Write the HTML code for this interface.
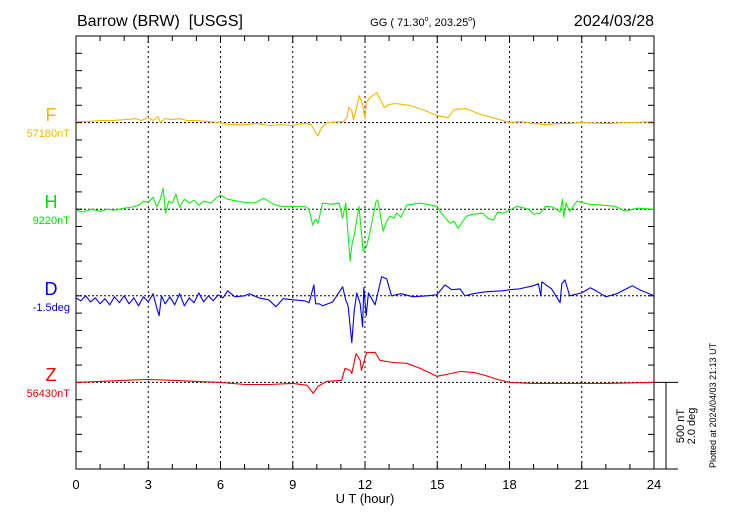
<!DOCTYPE html>
<html><head><meta charset="utf-8"><style>
body{margin:0;background:#fff;}
svg{display:block;font-family:"Liberation Sans",sans-serif;}
</style></head><body>
<svg id="chart" width="730" height="520" viewBox="0 0 730 520" xmlns="http://www.w3.org/2000/svg">
<rect x="0" y="0" width="730" height="520" fill="#fff"/>
<text x="77" y="26" font-size="16">Barrow (BRW)&#160;&#160;[USGS]</text>
<text x="423" y="26" font-size="11" text-anchor="middle">GG ( 71.30<tspan font-size="7" dy="-5">o</tspan><tspan dy="5">, 203.25</tspan><tspan font-size="7" dy="-5">o</tspan><tspan dy="5">)</tspan></text>
<text x="654" y="26" font-size="16" text-anchor="end">2024/03/28</text>
<g id="grid"></g>
<g id="axes"></g>
<g id="series"></g>
<text x="51" y="121" font-size="18" fill="#f7b500" text-anchor="middle">F</text>
<text x="70" y="137" font-size="11" fill="#f7b500" text-anchor="end">57180nT</text>
<text x="51" y="208" font-size="18" fill="#00dd00" text-anchor="middle">H</text>
<text x="70" y="224" font-size="11" fill="#00dd00" text-anchor="end">9220nT</text>
<text x="51" y="295" font-size="18" fill="#0000ee" text-anchor="middle">D</text>
<text x="70" y="311" font-size="11" fill="#0000ee" text-anchor="end">-1.5deg</text>
<text x="51" y="381" font-size="18" fill="#ee0000" text-anchor="middle">Z</text>
<text x="70" y="397" font-size="11" fill="#ee0000" text-anchor="end">56430nT</text>
<text x="365" y="503" font-size="13" text-anchor="middle">U T (hour)</text>
<text transform="translate(684,426) rotate(-90)" font-size="11" text-anchor="middle">500 nT</text>
<text transform="translate(695,426) rotate(-90)" font-size="11" text-anchor="middle">2.0 deg</text>
<text transform="translate(716,468) rotate(-90)" font-size="9">Plotted at 2024/04/03 21:13 UT</text>
</svg>
<script>
const xTicks = [0,3,6,9,12,15,18,21,24];
const fSeries = [[0,6],[0.5,6],[1,12],[1.5,12],[2,17],[2.5,23],[2.7,12],[3,29],[3.2,12],[3.4,35],[3.5,0],[3.7,23],[4,17],[4.3,23],[4.6,12],[5,12],[5.5,6],[6,0],[6.3,-12],[7,-12],[7.5,-6],[8,-17],[8.5,-12],[9,-17],[9.5,-6],[9.77,-12],[9.95,-58],[10.05,-75],[10.2,-29],[10.45,0],[11.1,6],[11.25,29],[11.33,87],[11.45,69],[11.52,17],[11.6,58],[11.76,156],[11.88,115],[12.0,23],[12.05,115],[12.2,144],[12.5,173],[12.65,127],[12.8,87],[13.0,104],[13.25,110],[13.9,98],[14.5,69],[15.0,40],[15.45,29],[15.7,75],[16.2,81],[16.7,52],[17.6,17],[18,0],[18.5,6],[19,-6],[19.5,-12],[20,-6],[20.5,-6],[21,0],[22,-6],[23,0],[24,6]];
const hSeries = [[0,-6],[0.3,-17],[0.6,0],[1,-12],[1.3,0],[1.6,-6],[2,6],[2.3,12],[2.6,23],[2.8,46],[3,40],[3.2,69],[3.35,12],[3.5,58],[3.62,121],[3.72,-23],[3.85,46],[4,35],[4.15,87],[4.3,12],[4.5,58],[4.7,35],[4.9,52],[5.1,23],[5.3,46],[5.6,35],[5.85,69],[6,81],[6.3,58],[6.7,46],[7,40],[7.4,35],[7.8,63],[8.2,29],[8.5,17],[9,17],[9.5,17],[9.68,0],[9.83,-92],[9.95,-58],[10.05,-81],[10.24,35],[10.6,29],[10.92,35],[11.07,-52],[11.2,35],[11.38,-300],[11.46,-202],[11.55,-150],[11.75,17],[11.92,-242],[12.05,-219],[12.17,-156],[12.46,46],[12.53,52],[12.75,-127],[12.9,-69],[13.04,-40],[13.2,-52],[13.32,-23],[13.5,-46],[13.73,23],[14.29,35],[14.98,17],[15.2,-29],[15.53,-81],[15.7,-69],[15.86,-110],[16.22,-40],[16.5,-29],[16.9,-23],[17.1,-52],[17.33,-63],[17.5,-17],[17.75,-23],[18.0,-6],[18.3,17],[18.8,0],[19.0,-29],[19.27,-23],[19.5,17],[19.82,12],[20.1,-17],[20.2,58],[20.25,-46],[20.35,35],[20.5,-12],[20.8,46],[21.3,29],[21.9,23],[22.4,17],[22.8,-12],[23.3,6],[24,0]];
const dHours = [0,0.2,0.4,0.6,0.8,1.0,1.2,1.4,1.6,1.8,2.0,2.2,2.4,2.6,2.8,3.0,3.2,3.35,3.45,3.55,3.7,3.9,4.1,4.3,4.5,4.7,4.9,5.1,5.3,5.5,5.7,5.9,6.1,6.3,6.6,7.0,7.2,7.6,8.0,8.3,8.6,9,9.5,9.68,9.88,9.95,10.1,10.24,10.66,11.07,11.2,11.3,11.45,11.55,11.66,11.8,11.9,11.95,12.05,12.14,12.42,12.69,12.9,13.1,13.5,14,14.56,14.98,15.32,15.6,15.95,16.15,16.5,17,17.7,18,18.4,18.98,19.2,19.3,19.34,19.75,20.1,20.17,20.3,20.5,21,21.35,21.6,22,22.45,23.1,23.4,24];
const dDegrees = [-0.048,-0.116,0,-0.14,-0.048,-0.184,-0.068,-0.208,-0.024,-0.16,0,-0.184,-0.048,-0.232,-0.024,-0.14,0.048,-0.276,-0.46,0,-0.184,-0.024,-0.208,0.048,-0.232,-0.048,-0.16,0.068,-0.14,0,-0.116,0.024,-0.048,0.116,-0.024,0,0.048,-0.048,-0.092,-0.252,-0.068,-0.092,-0.116,-0.16,0.252,-0.184,-0.184,-0.232,-0.14,0.208,-0.092,-0.232,-1.084,-0.348,0.068,-0.184,-0.716,0.184,-0.46,0.068,-0.208,0.44,0.392,0,0.048,-0.024,0,0.024,0.252,0.14,0.16,0,0.048,0.092,0.116,0.14,0.16,0.232,0.276,0,0.324,0.16,-0.16,0.276,0.368,0,0.068,0.184,0.116,-0.024,0.048,0.232,0.14,0];
const zSeries = [[0,0],[1,6],[2,12],[3,17],[4,12],[5,6],[6,0],[7,-12],[8,-12],[9,-6],[9.6,-17],[9.85,-63],[10.05,-23],[10.4,6],[11.03,12],[11.17,81],[11.38,69],[11.45,52],[11.63,167],[11.8,127],[11.85,69],[12.07,173],[12.42,173],[12.62,127],[13.17,115],[13.73,110],[14.29,81],[14.98,35],[15.4,46],[15.95,63],[16.5,58],[17,40],[17.5,17],[18,0],[19,-6],[20,-6],[22,-6],[24,0]];

const NS='http://www.w3.org/2000/svg';
const X0=76, X1=654, Y0=36, Y1=469;
const PX_PER_NT = (Y1-Y0)/25/100;
const PX_PER_DEG = PX_PER_NT*250;
const baseF=Y0+5*(Y1-Y0)/25, baseH=Y0+10*(Y1-Y0)/25, baseD=Y0+15*(Y1-Y0)/25, baseZ=Y0+20*(Y1-Y0)/25;
function xs(h){return X0+(X1-X0)*h/24;}
function mk(tag,attrs,parent){const e=document.createElementNS(NS,tag);for(const k in attrs)e.setAttribute(k,attrs[k]);parent.appendChild(e);return e;}
const grid=document.getElementById('grid'), axes=document.getElementById('axes'), series=document.getElementById('series');
xTicks.forEach(h=>{
  if(h>0&&h<24){const l=mk('line',{x1:xs(h),x2:xs(h),y1:Y0,y2:Y1,stroke:'#000','stroke-width':1,'stroke-dasharray':'2,3'},grid);
  
  }
  const t=mk('text',{x:xs(h),y:489,'font-size':13,'text-anchor':'middle'},axes);
  
  
  t.textContent=String(h);
});
[baseF,baseH,baseD,baseZ].forEach(b=>{
  const l=mk('line',{x1:X0,x2:X1,y1:b,y2:b,stroke:'#000','stroke-width':1,'stroke-dasharray':'2,2'},grid);
  
  
});
const frame=mk('rect',{x:X0,y:Y0,width:X1-X0,height:Y1-Y0,fill:'none',stroke:'#000','stroke-width':1},axes);


for(let h=0;h<=24;h++){
  const len=(h%3===0)?7:5;
  const a=mk('line',{x1:xs(h),x2:xs(h),y1:Y1,y2:Y1-len,stroke:'#000'},axes);
  
  
  const b=mk('line',{x1:xs(h),x2:xs(h),y1:Y0,y2:Y0+len,stroke:'#000'},axes);
  
  
}
for(let i=0;i<=25;i++){
  const y=Y0+i*(Y1-Y0)/25;
  const a=mk('line',{x1:X0,x2:X0+6,y1:y,y2:y,stroke:'#000'},axes);
  
  
  const b=mk('line',{x1:X1,x2:X1-6,y1:y,y2:y,stroke:'#000'},axes);
  
  
}
const e1=mk('line',{x1:X1,x2:678,y1:baseZ,y2:baseZ,stroke:'#000'},axes);


const e2=mk('line',{x1:X1,x2:678,y1:Y1,y2:Y1,stroke:'#000'},axes);


const e3=mk('line',{x1:666,x2:666,y1:baseZ,y2:baseZ+500*PX_PER_NT,stroke:'#000'},axes);


function draw(pts,base,scale,color,name){
  const d=pts.map((p,i)=>(i?'L':'M')+xs(p[0]).toFixed(1)+','+(base-p[1]*scale).toFixed(1)).join('');
  const p=mk('path',{d:d,fill:'none',stroke:color,'stroke-width':1.1,'stroke-linejoin':'round'},series);
  
  
}
draw(fSeries,baseF,PX_PER_NT,'#f7b500','f-series-line');
draw(hSeries,baseH,PX_PER_NT,'#11ee11','h-series-line');
draw(dHours.map((h,i)=>[h,dDegrees[i]]),baseD,PX_PER_DEG,'#0000ee','d-series-line');
draw(zSeries,baseZ,PX_PER_NT,'#ee0000','z-series-line');
</script>
</body></html>
